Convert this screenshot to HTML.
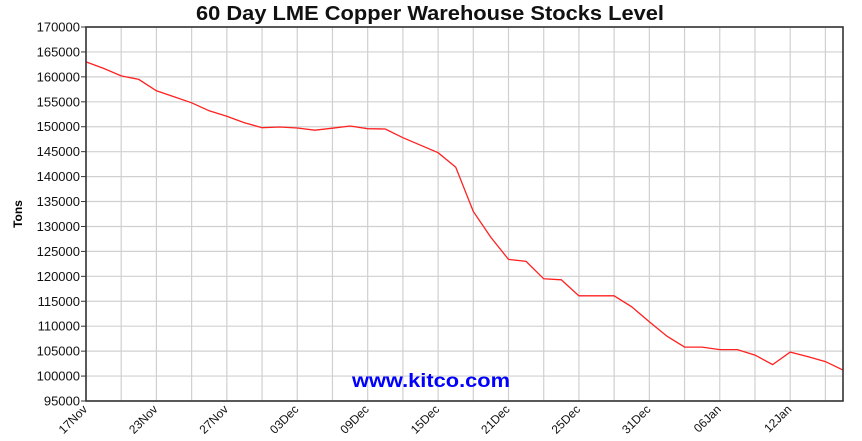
<!DOCTYPE html>
<html><head><meta charset="utf-8"><style>
html,body{margin:0;padding:0;background:#fff;}
svg{display:block;font-family:"Liberation Sans",Arial,sans-serif;}
</style></head><body>
<svg id="chart" width="862" height="441" xmlns="http://www.w3.org/2000/svg">
<text x="430" y="20" text-anchor="middle" font-size="20" font-weight="bold" fill="#111" textLength="468" lengthAdjust="spacingAndGlyphs">60 Day LME Copper Warehouse Stocks Level</text>
<text transform="translate(22,214) rotate(-90)" text-anchor="middle" font-size="12" font-weight="bold" fill="#000">Tons</text>
<g id="grid"></g>
<g id="yticks"></g>
<g id="xticks"></g>
<text x="431" y="387" text-anchor="middle" font-size="19" font-weight="bold" fill="#0000ff" textLength="158" lengthAdjust="spacingAndGlyphs">www.kitco.com</text>
<polyline id="line" fill="none" stroke="#ff2020" stroke-width="1.3"/>
<rect x="86" y="27" width="757" height="374" fill="none" stroke="#333" stroke-width="1.6"/>
</svg>
<script>
const values = [163000,161700,160200,159500,157200,156000,154800,153200,152100,150800,149800,149950,149750,149300,149700,150150,149600,149550,147800,146300,144800,141900,133000,127800,123400,123000,119500,119300,116100,116100,116100,113900,110900,108000,105800,105800,105300,105300,104200,102300,104800,103900,102900,101200];
const xLabels = ["17Nov","23Nov","27Nov","03Dec","09Dec","15Dec","21Dec","25Dec","31Dec","06Jan","12Jan"];
const yTicks = [95000,100000,105000,110000,115000,120000,125000,130000,135000,140000,145000,150000,155000,160000,165000,170000];
const NS="http://www.w3.org/2000/svg";
const L=86,R=843,T=27,B=401,yMin=95000,yMax=170000;
const step=(R-L)/(values.length-1);
const xs=i=>L+i*step;
const ys=v=>B-(v-yMin)/(yMax-yMin)*(B-T);
const grid=document.getElementById('grid'),yt=document.getElementById('yticks'),xt=document.getElementById('xticks');
function mk(t,a,p){const e=document.createElementNS(NS,t);for(const k in a)e.setAttribute(k,a[k]);p.appendChild(e);return e;}
yTicks.forEach(v=>{
  const y=ys(v);
  const g=mk('line',{x1:L,x2:R,y1:y,y2:y,stroke:'#d0d0d0','stroke-width':1.2},grid);
  
  
  const tk=mk('line',{x1:L-5,x2:L,y1:y,y2:y,stroke:'#333'},yt);
  
  
  const t=mk('text',{x:L-6,y:y+4.5,'text-anchor':'end','font-size':13,fill:'#111'},yt);
  t.textContent=v;
  
  
});
for(let i=0;i<values.length;i+=2){
  const x=xs(i);
  const g=mk('line',{x1:x,x2:x,y1:T,y2:B,stroke:'#d0d0d0','stroke-width':1.2},grid);
  
  
}
xLabels.forEach((s,j)=>{
  const x=xs(j*4);
  const t=mk('text',{transform:`translate(${x+2},${B+9}) rotate(-45)`,'text-anchor':'end','font-size':12,fill:'#111'},xt);
  t.textContent=s;
  
  
});
document.getElementById('line').setAttribute('points',values.map((v,i)=>xs(i).toFixed(1)+','+ys(v).toFixed(1)).join(' '));
</script>
</body></html>
